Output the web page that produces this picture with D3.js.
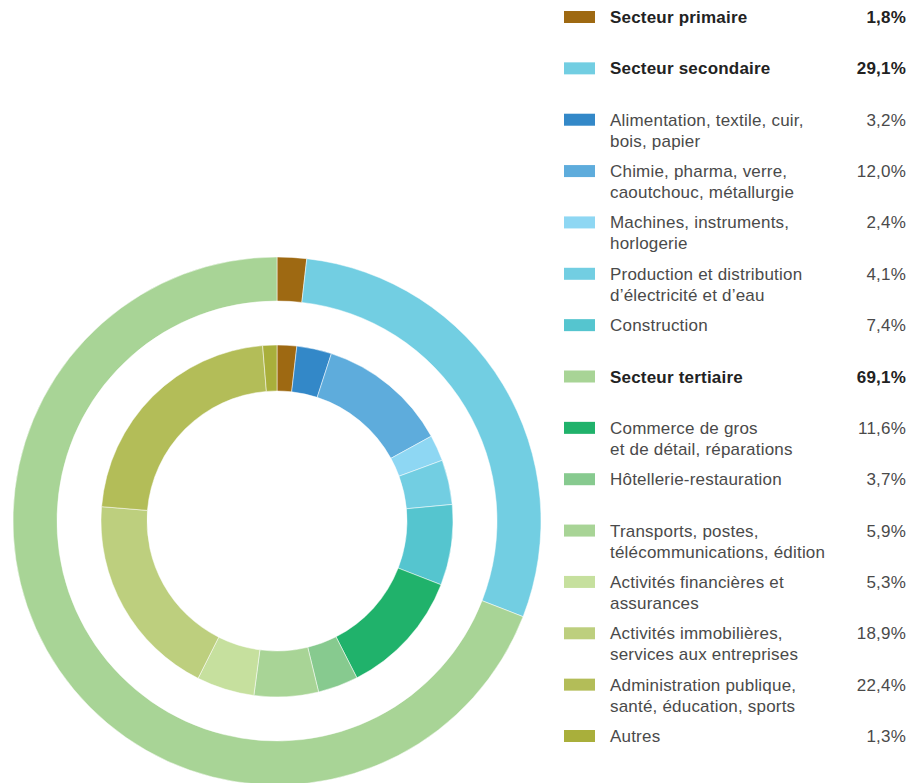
<html>
<script src='https://d3js.org/d3.v7.min.js'></script>
<style>
  body { margin: 0; background: #fff; }
  text { font-family: 'Liberation Sans', Arial, Helvetica, sans-serif; }
</style>
<body>
    <div id='vis'></div>
    <script>
        // outer ring: the three sectors
        const sectorNames = ['Secteur primaire', 'Secteur secondaire', 'Secteur tertiaire'];
        const sectorValues = [1.8, 29.1, 69.1];
        const sectorColors = ['#9e6912', '#72cee2', '#a8d496'];

        // inner ring: branches (primaire repeated as first slice)
        const branchNames = [
            ['Secteur primaire'],
            ['Alimentation, textile, cuir,', 'bois, papier'],
            ['Chimie, pharma, verre,', 'caoutchouc, métallurgie'],
            ['Machines, instruments,', 'horlogerie'],
            ['Production et distribution', 'd\u2019électricité et d\u2019eau'],
            ['Construction'],
            ['Commerce de gros', 'et de détail, réparations'],
            ['Hôtellerie-restauration'],
            ['Transports, postes,', 'télécommunications, édition'],
            ['Activités financières et', 'assurances'],
            ['Activités immobilières,', 'services aux entreprises'],
            ['Administration publique,', 'santé, éducation, sports'],
            ['Autres']
        ];
        const branchValues = [1.8, 3.2, 12.0, 2.4, 4.1, 7.4, 11.6, 3.7, 5.9, 5.3, 18.9, 22.4, 1.3];
        const branchSector = [0, 1, 1, 1, 1, 1, 2, 2, 2, 2, 2, 2, 2];
        const branchColors = ['#9e6912', '#3388c8', '#5eacdc', '#8ed7f3', '#72cee2', '#55c5cf',
            '#20b26b', '#87ca8f', '#a8d496', '#c6e09e', '#bdcf7e', '#b3bd58', '#a9af3b'];

        const width = 924, height = 783;
        const cx = 277, cy = 521;

        const svg = d3.select('#vis').append('svg').attr('width', width).attr('height', height);
        const g = svg.append('g').attr('transform', `translate(${cx},${cy})`);

        const pie = d3.pie().sort(null).value(d => d);
        const outerArc = d3.arc().innerRadius(220).outerRadius(264);
        const innerArc = d3.arc().innerRadius(130).outerRadius(176);

        g.selectAll('.outer').data(pie(sectorValues)).enter().append('path')
            .attr('class', 'outer')
            .attr('d', outerArc)
            .attr('fill', (d, i) => sectorColors[i])
            .attr('stroke', '#fff')
            .attr('stroke-width', 0.5);

        g.selectAll('.inner').data(pie(branchValues)).enter().append('path')
            .attr('class', 'inner')
            .attr('d', innerArc)
            .attr('fill', (d, i) => branchColors[i])
            .attr('stroke', '#fff')
            .attr('stroke-width', 0.5);

        // legend rows: sector headers followed by their branches
        const rows = [];
        sectorNames.forEach((name, s) => {
            rows.push({ lines: [name], value: sectorValues[s], color: sectorColors[s], bold: true });
            if (s === 0) return;
            branchValues.forEach((v, i) => {
                if (branchSector[i] === s)
                    rows.push({ lines: branchNames[i], value: v, color: branchColors[i], bold: false });
            });
        });

        const fr = d3.formatLocale({ decimal: ',', thousands: ' ', grouping: [3], currency: ['', ''] });
        const fmt = fr.format('.1%');

        const y = d3.scaleLinear().domain([0, rows.length - 1]).range([11, 730]);

        const legend = svg.append('g');
        const row = legend.selectAll('.row').data(rows).enter().append('g')
            .attr('class', 'row')
            .attr('transform', (d, i) => `translate(0,${y(i)})`);

        row.append('rect')
            .attr('x', 564).attr('y', 0)
            .attr('width', 31).attr('height', 12)
            .attr('fill', d => d.color);

        row.each(function (d) {
            const t = d3.select(this).append('text')
                .attr('x', 610).attr('y', 12)
                .attr('font-size', 17)
                .attr('letter-spacing', 0.2)
                .attr('font-weight', d.bold ? 'bold' : 'normal')
                .attr('fill', d.bold ? '#222' : '#4a4a4a');
            d.lines.forEach((l, k) => {
                t.append('tspan').attr('x', 610).attr('dy', k === 0 ? 0 : 21).text(l);
            });
        });

        row.append('text')
            .attr('x', 906).attr('y', 12)
            .attr('text-anchor', 'end')
            .attr('font-size', 17)
            .attr('letter-spacing', 0.2)
            .attr('font-weight', d => d.bold ? 'bold' : 'normal')
            .attr('fill', d => d.bold ? '#222' : '#4a4a4a')
            .text(d => fmt(d.value / 100));
    </script>
</body>
</html>
